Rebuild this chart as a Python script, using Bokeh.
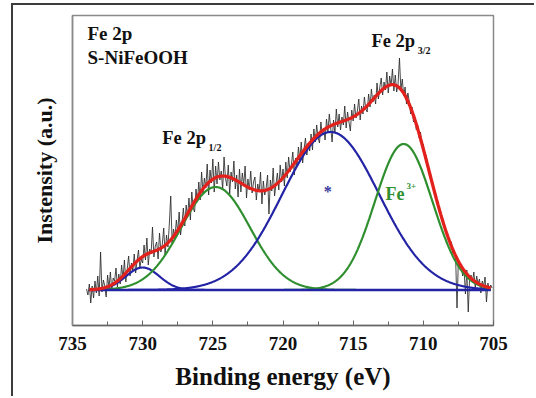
import numpy as np
from bokeh.plotting import figure
from bokeh.models import Range1d, FixedTicker, Label
from bokeh.embed import file_html
from bokeh.resources import INLINE

# Fe 2p XPS spectrum of S-NiFeOOH (background-subtracted intensity, a.u.)
energy_start = 734.0   # eV, first channel
energy_step = 0.1      # eV per channel (decreasing binding energy)
counts = [
    1, -5, 6, -13, 4, -8, 9, -3, 14, -6,
    38, -2, 10, 4, -7, 15, 2, 18, -1, 12,
    9, 22, 3, 16, 6, 25, 11, 30, 8, 21,
    34, 14, 27, 19, 36, 17, 29, 40, 22, 31,
    27, 45, 30, 52, 25, 41, 36, 63, 33, 44,
    48, 31, 57, 38, 46, 62, 35, 55, 43, 66,
    94, 47, 61, 52, 70, 58, 78, 55, 67, 82,
    64, 85, 73, 92, 70, 98, 82, 78, 101, 88,
    108, 90, 118, 97, 112, 102, 126, 95, 120, 107,
    131, 98, 124, 106, 128, 110, 119, 100, 133, 112,
    104, 125, 96, 118, 108, 129, 101, 115, 93, 121,
    98, 117, 105, 124, 92, 111, 100, 119, 97, 108,
    113, 90, 106, 98, 118, 86, 109, 95, 102, 115,
    76, 110, 99, 122, 94, 106, 117, 100, 125, 108,
    121, 104, 128, 112, 133, 118, 126, 138, 115, 132,
    124, 143, 130, 148, 127, 141, 152, 135, 147, 139,
    156, 140, 161, 148, 165, 152, 147, 168, 155, 162,
    150, 171, 158, 176, 162, 148, 170, 157, 181, 163,
    176, 160, 173, 165, 184, 162, 178, 168, 159, 180,
    169, 186, 172, 179, 191, 170, 184, 176, 193, 181,
    178, 196, 183, 201, 188, 195, 186, 207, 191, 203,
    212, 195, 208, 200, 218, 197, 214, 204, 221, 199,
    215, 198, 206, 232, 200, 211, 194, 203, 186, 197,
    188, 176, 183, 168, 172, 160, 165, 152, 158, 144,
    146, 132, 135, 126, 120, 117, 108, 104, 97, 94,
    85, 84, 76, 73, 66, 65, 58, 55, 50, 47,
    48, 37, 40, 33, -18, 31, 22, 26, 14, 21,
    -4, 20, -22, 12, 15, 8, 18, 2, 14, 6,
    11, -3, 9, 4, 13, -12, 7, 1, 5, 2,
]

# Peak fit: flat background plus four Gaussian components
background = 0.0
fit_limits = [733.8, 705.2]
peak_centers = [730.0, 724.8, 716.6, 711.4]   # eV
peak_heights = [22.5, 103.0, 158.0, 146.0]
peak_sigmas = [1.2, 2.45, 3.45, 2.05]

tick_values = [735, 730, 725, 720, 715, 710, 705]
tick_labels = ["735", "730", "725", "720", "715", "710", "705"]
minor_tick_values = [732.5, 727.5, 722.5, 717.5, 712.5, 707.5]

# styles
FONT = "'Liberation Serif', 'Times New Roman', serif"
BLUE = "#2323a6"
GREEN = "#2f8f2f"
RED = "#e3211c"
peak_colors = [BLUE, GREEN, BLUE, GREEN]

energy = energy_start - energy_step * np.arange(len(counts))
e_fit = np.linspace(fit_limits[0], fit_limits[1], 800)
components = [h * np.exp(-(e_fit - c) ** 2 / (2 * s ** 2))
              for c, h, s in zip(peak_centers, peak_heights, peak_sigmas)]
envelope = background + np.sum(components, axis=0)

p = figure(width=523, height=393,
           x_range=Range1d(735, 705), y_range=Range1d(-35.5, 274.5),
           output_backend="svg", toolbar_location=None,
           min_border_left=59, min_border_right=43,
           min_border_top=10, min_border_bottom=73)
p.styles = {"border-left": "2px solid #3c3c3c", "border-top": "2px solid #3c3c3c",
            "margin-left": "11px", "margin-top": "3px"}
p.background_fill_color = "white"
p.border_fill_color = "white"
p.outline_line_color = "#8a8a8a"
p.outline_line_width = 1.5
p.xgrid.visible = False
p.ygrid.visible = False

# measured spectrum
p.line(energy, counts, line_color="#2a2a2a", line_width=1, line_alpha=0.85)

# fitted components
for comp, col in zip(components, peak_colors):
    p.line(e_fit, background + comp, line_color=col, line_width=2.2)

# background line
p.line(fit_limits, [background, background], line_color=BLUE, line_width=2.5)

# fit envelope
p.line(e_fit, envelope, line_color=RED, line_width=3.3)

# axes
xa = p.xaxis[0]
xa.ticker = FixedTicker(ticks=tick_values, minor_ticks=minor_tick_values)
xa.major_label_overrides = {v: s for v, s in zip(tick_values, tick_labels)}
xa.axis_label = "Binding energy (eV)"
xa.axis_label_text_font = FONT
xa.axis_label_text_font_style = "bold"
xa.axis_label_text_font_size = "25px"
xa.axis_label_text_color = "#111111"
xa.axis_label_standoff = 10
xa.major_label_text_font = FONT
xa.major_label_text_font_style = "bold"
xa.major_label_text_font_size = "19px"
xa.major_label_text_color = "#111111"
xa.major_label_standoff = 11
xa.major_tick_in = 5
xa.major_tick_out = 0
xa.minor_tick_in = 4
xa.minor_tick_out = 0
xa.axis_line_color = "#666666"
xa.axis_line_width = 1.5
xa.major_tick_line_color = "#666666"
xa.minor_tick_line_color = "#666666"

ya = p.yaxis[0]
ya.ticker = FixedTicker(ticks=[])
ya.axis_label = "Instensity (a.u.)"
ya.axis_label_text_font = FONT
ya.axis_label_text_font_style = "bold"
ya.axis_label_text_font_size = "22px"
ya.axis_label_text_color = "#111111"
ya.axis_label_standoff = 16
ya.major_label_standoff = 0
ya.axis_line_color = "#8a8a8a"
ya.axis_line_width = 1.5


def add_text(x, y, text, size, color="#111111", baseline="middle"):
    p.add_layout(Label(x=x, y=y, text=text, text_font=FONT, text_font_style="bold",
                       text_font_size=size, text_color=color,
                       text_baseline=baseline, text_align="left"))


add_text(733.93, 256.5, "Fe 2p", "19px")
add_text(733.93, 232.5, "S-NiFeOOH", "19px")
add_text(728.6, 152.5, "Fe 2p", "18.5px")
add_text(725.3, 142.5, "1/2", "10px")
add_text(713.7, 249.5, "Fe 2p", "18.5px")
add_text(710.4, 239.5, "3/2", "10px")
add_text(712.7, 96.5, "Fe", "18px", color=GREEN)
add_text(711.2, 104.5, "3+", "9px", color=GREEN)
add_text(717.1, 99.0, "*", "16px", color="#3a3a9e", baseline="alphabetic")

open("out.html", "w").write(file_html(p, INLINE))
